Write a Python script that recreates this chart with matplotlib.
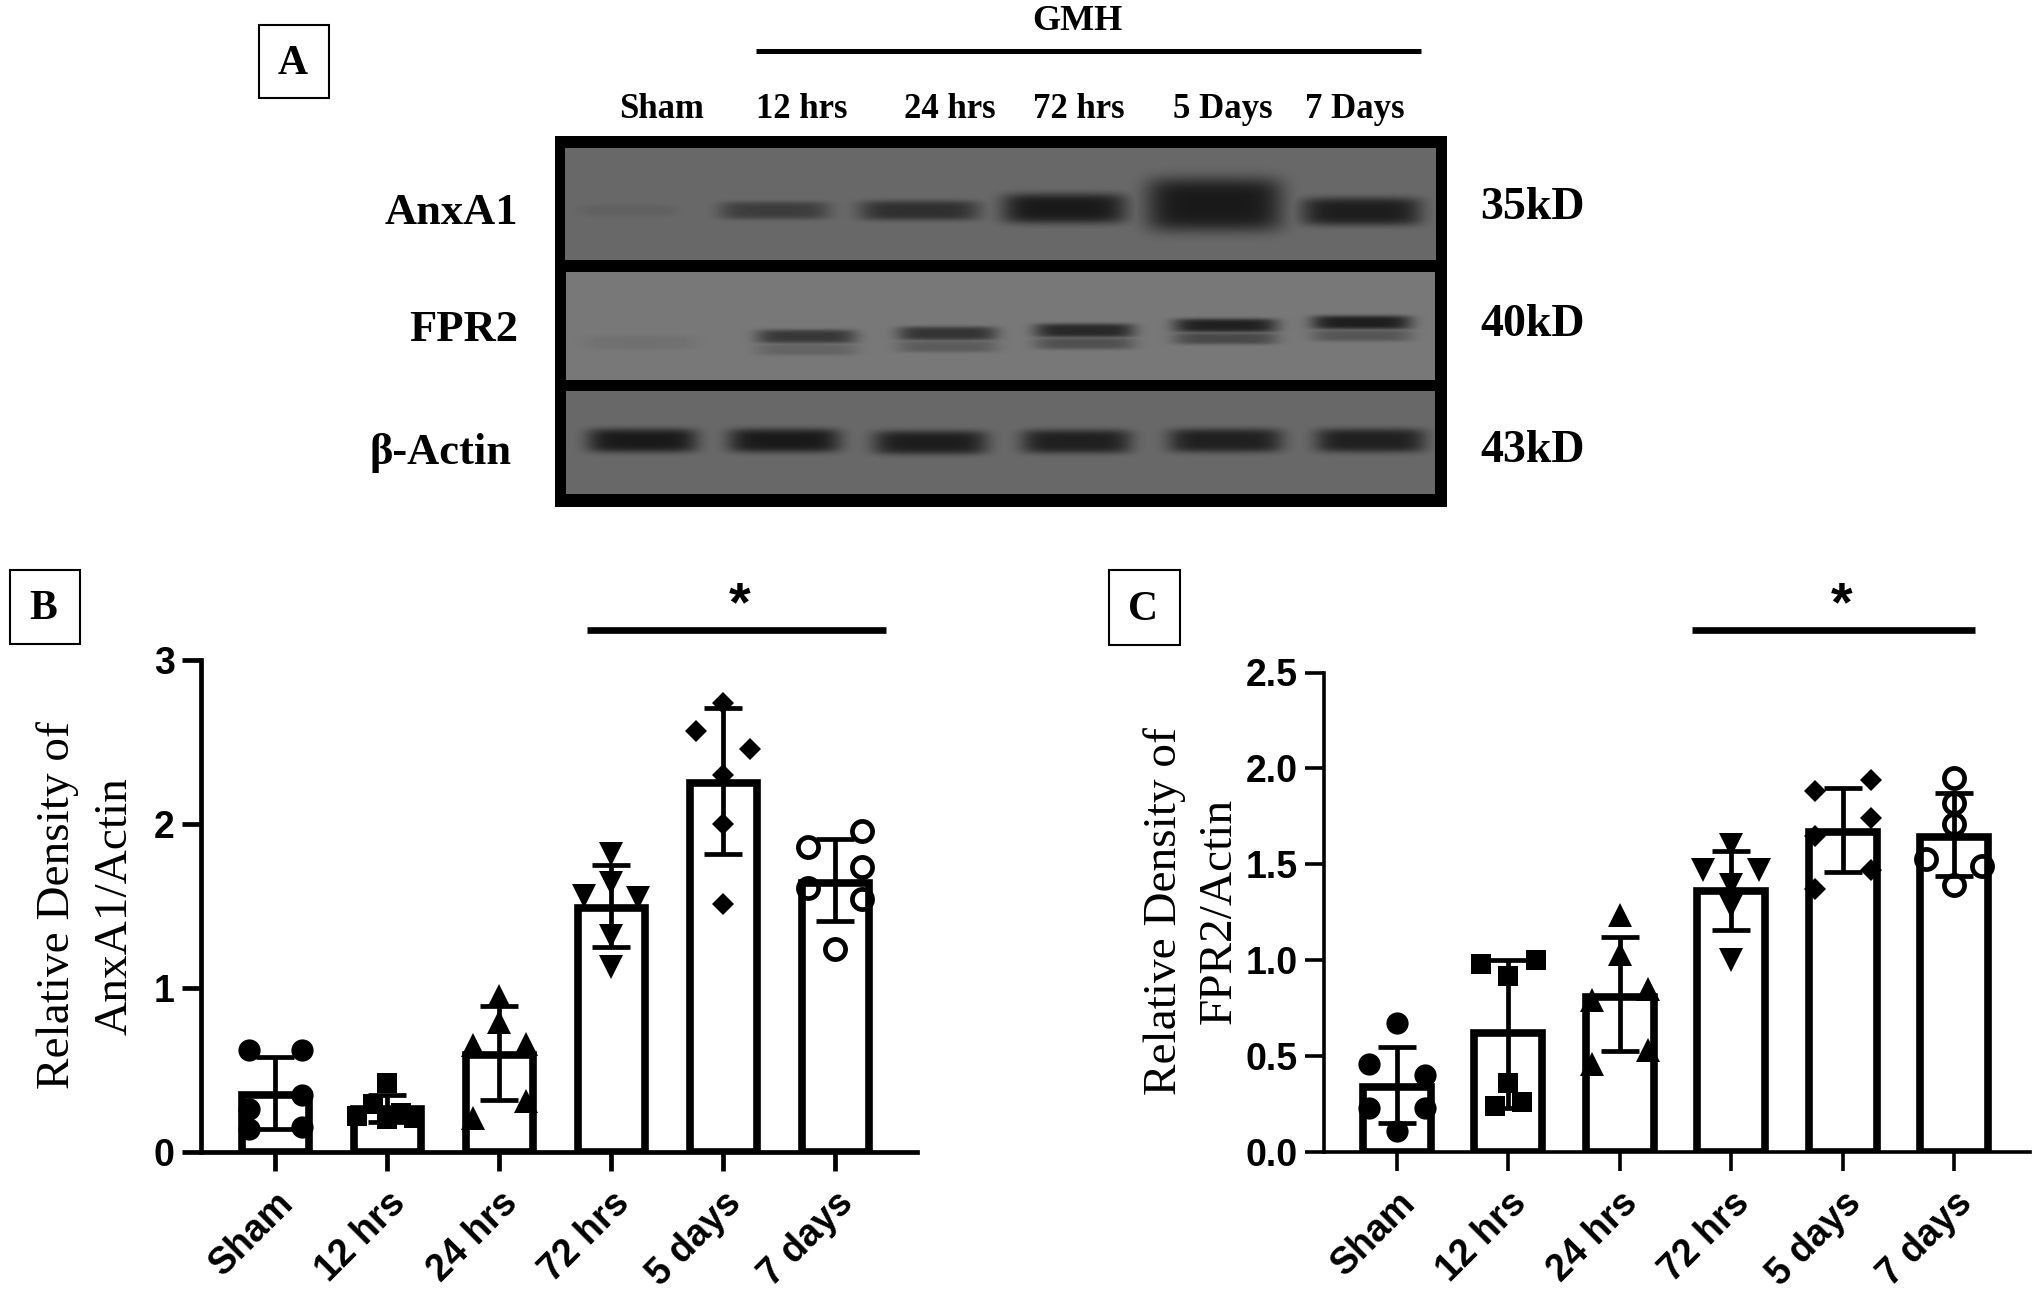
"""AnxA1 / FPR2 western blot with densitometry bars, panels A, B and C."""

import numpy as np

import matplotlib
matplotlib.use("Agg")  # no display needed; we save to file
import matplotlib.pyplot as plt  # noqa: E402
from matplotlib.patches import Rectangle  # noqa: E402

W, H = 2040, 1295
SERIF = "Liberation Serif"
SANS = "Liberation Sans"

GROUPS = ["Sham", "12 hrs", "24 hrs", "72 hrs", "5 days", "7 days"]
MARKERS = ["o", "s", "^", "v", "D", "o"]

# panel B, AnxA1/Actin
b_means = [0.35, 0.26, 0.59, 1.49, 2.25, 1.64]
b_err_hi = [0.58, 0.35, 0.89, 1.75, 2.71, 1.91]
b_err_lo = [0.14, 0.18, 0.32, 1.25, 1.82, 1.41]
b_points = [
    [0.62, 0.62, 0.35, 0.26, 0.14, 0.15],
    [0.42, 0.29, 0.22, 0.24, 0.21, 0.20],
    [0.95, 0.79, 0.65, 0.66, 0.31, 0.21],
    [1.82, 1.64, 1.56, 1.55, 1.32, 1.13],
    [2.74, 2.57, 2.46, 2.30, 2.00, 1.51],
    [1.96, 1.86, 1.74, 1.61, 1.54, 1.24],
]
b_offsets = [
    [-0.24, 0.24, 0.24, -0.24, -0.24, 0.24],
    [0, -0.13, -0.27, 0.12, 0.24, 0],
    [0, 0, -0.24, 0.24, 0.24, -0.24],
    [0, 0, -0.24, 0.24, 0, 0],
    [0, -0.24, 0.24, 0, 0, 0],
    [0.24, -0.24, 0.24, -0.24, 0.24, 0],
]

# panel C, FPR2/Actin
c_means = [0.34, 0.62, 0.81, 1.36, 1.67, 1.64]
c_err_hi = [0.55, 1.00, 1.12, 1.57, 1.90, 1.87]
c_err_lo = [0.15, 0.23, 0.525, 1.16, 1.46, 1.44]
c_points = [
    [0.67, 0.46, 0.40, 0.23, 0.23, 0.11],
    [0.98, 1.00, 0.92, 0.36, 0.26, 0.24],
    [1.235, 1.03, 0.85, 0.79, 0.53, 0.46],
    [1.60, 1.47, 1.47, 1.39, 1.28, 1.00],
    [1.94, 1.88, 1.74, 1.65, 1.47, 1.37],
    [1.95, 1.82, 1.71, 1.53, 1.49, 1.39],
]
c_offsets = [
    [0, -0.25, 0.25, -0.25, 0.25, 0],
    [-0.25, 0.25, 0, 0, 0.12, -0.12],
    [0, 0, 0.25, -0.25, 0.25, -0.25],
    [0, -0.25, 0.25, 0, 0, 0],
    [0.25, -0.25, 0.25, -0.25, 0.25, -0.25],
    [0, 0, 0, -0.25, 0.25, 0],
]

# panel A, lane labels and estimated band strength per lane
LANES = ["Sham", "12 hrs", "24 hrs", "72 hrs", "5 Days", "7 Days"]
anxa1_strength = [0.10, 0.55, 0.72, 1.00, 1.00, 0.95]
fpr2_strength = [0.08, 0.68, 0.72, 0.85, 0.92, 0.95]
fpr2_lower = [0.0, 0.22, 0.30, 0.42, 0.50, 0.36]
actin_strength = [1.0, 1.0, 0.95, 0.92, 0.92, 0.92]


def px_axes(fig, left, right, top, bottom):
    return fig.add_axes([left / W, 1 - bottom / H, (right - left) / W, (bottom - top) / H])


def band(xx, yy, x0, y0, half_w, half_h, amp):
    return amp * np.exp(-((xx - x0) / half_w) ** 6 - ((yy - y0) / half_h) ** 4)


def blot_panel(ax, extent, grey, bands):
    left, right, top, bottom = extent
    xx, yy = np.meshgrid(np.arange(left, right), np.arange(top, bottom))
    dark = np.zeros(xx.shape)
    for b in bands:
        dark = np.maximum(dark, band(xx, yy, *b))
    img = grey * (1 - dark) + 0.1 * dark
    ax.imshow(img, extent=(left, right, bottom, top), cmap="gray", vmin=0, vmax=1,
              aspect="auto", interpolation="bilinear", zorder=2)


def draw_blot(ov):
    ov.add_patch(Rectangle((555, 136), 892, 371, fc="black", ec="none", zorder=1))

    xs = [628, 774, 919, 1064, 1214, 1361]
    half_w = [50, 55, 60, 62, 68, 60]
    half_h = [6, 9, 10, 15, 27, 14]
    ys = [210, 210, 210, 208, 204, 211]
    anx = [(x, y, w, h, s) for x, y, w, h, s in zip(xs, ys, half_w, half_h, anxa1_strength)]
    blot_panel(ov, (565, 1436, 148, 260), 0.41, anx)

    xs = [640, 806, 947, 1084, 1225, 1361]
    ys = [342, 336, 333, 330, 325, 322]
    half_w = [55, 50, 50, 50, 52, 50]
    fpr = [(x, y, w, 7, s) for x, y, w, s in zip(xs, ys, half_w, fpr2_strength)]
    fpr += [(x, y + 13, w, 6, s) for x, y, w, s in zip(xs, ys, half_w, fpr2_lower)]
    blot_panel(ov, (566, 1435, 272, 380), 0.47, fpr)

    xs = [642, 784, 930, 1076, 1225, 1370]
    ys = [440, 440, 442, 441, 440, 440]
    half_w = [55, 56, 57, 55, 57, 55]
    act = [(x, y, w, 12, s) for x, y, w, s in zip(xs, ys, half_w, actin_strength)]
    blot_panel(ov, (566, 1435, 391, 494), 0.41, act)


def draw_overlay(fig):
    ov = fig.add_axes([0, 0, 1, 1])
    ov.patch.set_alpha(0)
    ov.axis("off")

    draw_blot(ov)
    ov.set_xlim(0, W)
    ov.set_ylim(H, 0)

    # panel letters
    for letter, x0, x1, y0, y1, tx in [("A", 259, 329, 25, 98, 293),
                                       ("B", 10, 80, 570, 644, 43),
                                       ("C", 1109, 1180, 570, 645, 1143)]:
        ov.add_patch(Rectangle((x0, y0), x1 - x0, y1 - y0, fc="white", ec="black", lw=1.5))
        ov.text(tx, (y0 + y1) / 2 + 2, letter, family=SERIF, weight="bold", fontsize=30,
                ha="center", va="center")

    ov.text(1077, 22, "GMH", family=SERIF, weight="bold", fontsize=26, ha="center", va="center")
    ov.plot([756, 1421], [51, 51], color="black", lw=3.6, solid_capstyle="butt")
    for name, x in zip(LANES, [662, 802, 950, 1079, 1223, 1355]):
        ov.text(x, 110, name, family=SERIF, weight="bold", fontsize=25, ha="center", va="center")

    for name, x, y in [("AnxA1", 518, 213), ("FPR2", 518, 330), ("β-Actin", 512, 453)]:
        ov.text(x, y, name, family=SERIF, weight="bold", fontsize=32, ha="right", va="center")
    for name, y in [("35kD", 208), ("40kD", 325), ("43kD", 451)]:
        ov.text(1480, y, name, family=SERIF, weight="bold", fontsize=33, ha="left", va="center")

    # significance bars
    for x0, x1, xs in [(587, 886, 740), (1692, 1975, 1842)]:
        ov.plot([x0, x1], [630, 630], color="black", lw=4.8, solid_capstyle="butt")
        ov.text(xs, 606, "*", family=SANS, weight="bold", fontsize=40, ha="center", va="center")

    # y axis titles
    for text, x, y in [("Relative Density of", 58, 905), ("AnxA1/Actin", 115, 906),
                       ("Relative Density of", 1165, 911), ("FPR2/Actin", 1219, 911)]:
        ov.text(x, y, text, family=SERIF, fontsize=34, rotation=90, ha="center", va="center")


def draw_bars(ax, means, hi, lo, points, offsets, bar_w, yticks, yfmt, spine_lw):
    xpos = np.arange(len(GROUPS))
    ax.bar(xpos, means, width=bar_w, fc="white", ec="black", lw=5.5, zorder=2)
    ax.errorbar(xpos, means,
                yerr=[np.subtract(means, lo), np.subtract(hi, means)],
                fmt="none", ecolor="black", elinewidth=3.4, capsize=13.5, capthick=3.4, zorder=3)
    for i, (vals, offs) in enumerate(zip(points, offsets)):
        is_open = i == 5
        ms = {"D": 11, "s": 15, "^": 17, "v": 17}.get(MARKERS[i], 16)
        if is_open:
            ms = 14.5
        ax.plot(xpos[i] + np.array(offs), vals, ls="none", marker=MARKERS[i], ms=ms,
                mfc="none" if is_open else "black", mec="black", mew=3.4 if is_open else 0,
                clip_on=False, zorder=4)

    ax.set_xticks(xpos)
    ax.set_xticklabels(GROUPS, rotation=45, ha="right", rotation_mode="anchor",
                       family=SANS, weight="bold", fontsize=27)
    ax.set_yticks(yticks)
    ax.set_yticklabels([yfmt.format(v) for v in yticks], family=SANS, weight="bold", fontsize=27)
    ax.tick_params(axis="y", length=14, width=spine_lw, pad=5)
    ax.tick_params(axis="x", length=14, width=spine_lw, pad=10)
    for side in ("top", "right"):
        ax.spines[side].set_visible(False)
    for side in ("left", "bottom"):
        ax.spines[side].set_linewidth(spine_lw)
    ax.patch.set_alpha(0)


def main():
    fig = plt.figure(figsize=(W / 100, H / 100), dpi=100, facecolor="white")
    draw_overlay(fig)

    ax_b = px_axes(fig, 201, 917, 660, 1152)
    draw_bars(ax_b, b_means, b_err_hi, b_err_lo, b_points, b_offsets, 0.60,
              [0, 1, 2, 3], "{:d}", 3.4)
    ax_b.set_xlim(-0.665, 5.73)
    ax_b.set_ylim(0, 3)

    ax_c = px_axes(fig, 1324, 2030, 672.5, 1152)
    draw_bars(ax_c, c_means, c_err_hi, c_err_lo, c_points, c_offsets, 0.61,
              [0.0, 0.5, 1.0, 1.5, 2.0, 2.5], "{:.1f}", 2.6)
    ax_c.set_xlim(-0.655, 5.68)
    ax_c.set_ylim(0, 2.5)

    fig.savefig("out.png", dpi=100)
    plt.close(fig)


if __name__ == "__main__":
    main()
